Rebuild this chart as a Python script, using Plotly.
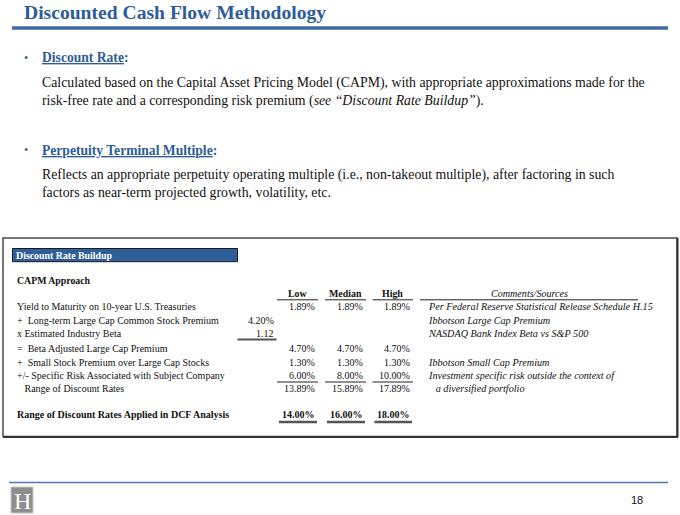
import plotly.graph_objects as go

# ---------------- data ----------------
title = "Discounted Cash Flow Methodology"
bullet_heads = ["Discount Rate", "Perpetuity Terminal Multiple"]
bullet_lines = [
    ["Calculated based on the Capital Asset Pricing Model (CAPM), with appropriate approximations made for the",
     "risk-free rate and a corresponding risk premium (<i>see \u201cDiscount Rate Buildup\u201d</i>)."],
    ["Reflects an appropriate perpetuity operating multiple (i.e., non-takeout multiple), after factoring in such",
     "factors as near-term projected growth, volatility, etc."],
]
box_title = "Discount Rate Buildup"
section_title = "CAPM Approach"
col_headers = ["Low", "Median", "High"]
comment_header = "Comments/Sources"
row_labels = [
    "Yield to Maturity on 10-year U.S. Treasuries",
    "+\u00a0\u00a0Long-term Large Cap Common Stock Premium",
    "x Estimated Industry Beta",
    "=\u00a0\u00a0Beta Adjusted Large Cap Premium",
    "+\u00a0\u00a0Small Stock Premium over Large Cap Stocks",
    "+/- Specific Risk Associated with Subject Company",
    "\u00a0\u00a0\u00a0Range of Discount Rates",
]
pre_values = [None, "4.20%", "1.12", None, None, None, None]
low = [1.89, None, None, 4.70, 1.30, 6.00, 13.89]
median = [1.89, None, None, 4.70, 1.30, 8.00, 15.89]
high = [1.89, None, None, 4.70, 1.30, 10.00, 17.89]
comments = [
    "Per Federal Reserve Statistical Release Schedule H.15",
    "Ibbotson Large Cap Premium",
    "NASDAQ Bank Index Beta vs S&P 500",
    "",
    "Ibbotson Small Cap Premium",
    "Investment specific risk outside the context of",
    "\u00a0\u00a0\u00a0a diversified portfolio",
]
final_label = "Range of Discount Rates Applied in DCF Analysis"
final_values = [14.00, 16.00, 18.00]
page_number = "18"

# ---------------- layout helpers ----------------
SERIF = "Liberation Serif, Times New Roman, serif"
BLUE = "#2D5C99"
row_y = [306.5, 320.5, 333.5, 348, 362, 375.5, 388.5]
final_y = 414.5
col_right = [317, 364.5, 412]
col_spans = [(277, 318), (325, 366), (372.5, 413)]
pre_right = 276
label_x = 15
comment_x = 426
TS = 10.0   # table font size

ann = []
shapes = []

def text(x, y, s, size, color="#111", xanchor="left", bold=False, italic=False, family=SERIF):
    if bold:
        s = "<b>" + s + "</b>"
    if italic:
        s = "<i>" + s + "</i>"
    ann.append(dict(x=x, y=y, xref="x", yref="y", text=s, showarrow=False,
                    xanchor=xanchor, yanchor="middle",
                    font=dict(family=family, size=size, color=color)))

def hline(x0, x1, y, color, width):
    shapes.append(dict(type="line", xref="x", yref="y", x0=x0, x1=x1, y0=y, y1=y,
                       line=dict(color=color, width=width)))

# title
text(22, 12.5, title, 19.6, BLUE, bold=True)
hline(12, 668, 28, "#3B6AA6", 3.5)

# bullets
bullet_y = [57.5, 150]
line_y = [[83, 101], [175, 192]]
for bh, lines, by, ly in zip(bullet_heads, bullet_lines, bullet_y, line_y):
    text(22, by, "\u2022", 12, BLUE)
    text(40, by, "<u>" + bh + "</u>:", 13.6, BLUE, bold=True)
    for l, yy in zip(lines, ly):
        text(40, yy, l, 13.8, "#111")

# table box
shapes.append(dict(type="rect", xref="x", yref="y", x0=3, x1=677, y0=238, y1=436.5,
                   line=dict(color="#4a4a4a", width=1.5), fillcolor="rgba(0,0,0,0)"))
hline(3, 678, 437, "#333", 2)
shapes.append(dict(type="line", xref="x", yref="y", x0=677.5, x1=677.5, y0=238, y1=437.5,
                   line=dict(color="#333", width=2)))
shapes.append(dict(type="rect", xref="x", yref="y", x0=12.5, x1=237.5, y0=248.5, y1=261.7,
                   line=dict(color="#1a1a1a", width=1), fillcolor="#2F5E98"))
text(14, 255.5, box_title, 9.9, "white", bold=True)
text(label_x, 280.5, section_title, 9.8, "#111", bold=True)

# column headers
for h, (a, b) in zip(col_headers, col_spans):
    text((a + b) / 2, 293.5, h, 9.9, "#111", xanchor="center", bold=True)
    hline(a, b, 299.8, "#222", 1)
text(529, 293.5, comment_header, 10.1, "#111", xanchor="center", italic=True)
hline(420, 638, 299.8, "#222", 1)

# rows
for i, lab in enumerate(row_labels):
    y = row_y[i]
    text(label_x, y, lab, TS, "#111")
    if pre_values[i]:
        text(pre_right, y, pre_values[i], TS, "#111", xanchor="right")
    for vals, xr in zip((low, median, high), col_right):
        if vals[i] is not None:
            text(xr, y, f"{vals[i]:.2f}%", TS, "#111", xanchor="right")
    if comments[i]:
        text(comment_x, y, comments[i], 10.2, "#111", italic=True)

# underline under beta
hline(237.5, 276.5, 339.5, "#555", 2.2)
# subtotal lines
for a, b in col_spans:
    hline(a, b, 382, "#222", 1)

# final row
text(label_x, final_y, final_label, 10.0, "#111", bold=True)
for v, xr in zip(final_values, col_right):
    text(xr, final_y, f"{v:.2f}%", 10.0, "#111", xanchor="right", bold=True)
for a, b in col_spans:
    hline(a + 2, b - 1, 422, "#555", 2.5)

# footer
hline(9, 668, 482.5, "#4A7AB8", 1.5)
shapes.append(dict(type="rect", xref="x", yref="y", x0=11, x1=33, y0=487, y1=513,
                   line=dict(color="#c8c8c8", width=1), fillcolor="#8E8E8E"))
text(22, 500.5, "H", 24, "white", xanchor="center")
text(645, 500, page_number, 11, "#111", xanchor="right", family="Liberation Sans, Arial, sans-serif")

fig = go.Figure()
fig.update_layout(
    width=680, height=515,
    margin=dict(l=0, r=0, t=0, b=0),
    paper_bgcolor="white", plot_bgcolor="white",
    xaxis=dict(range=[0, 680], visible=False, fixedrange=True),
    yaxis=dict(range=[515, 0], visible=False, fixedrange=True),
    annotations=ann, shapes=shapes, showlegend=False,
)
# remove the default 8px page margin so the figure fills the window exactly
fig.write_html("out.html", config={"displayModeBar": False},
               post_script="document.body.style.margin='0';")
